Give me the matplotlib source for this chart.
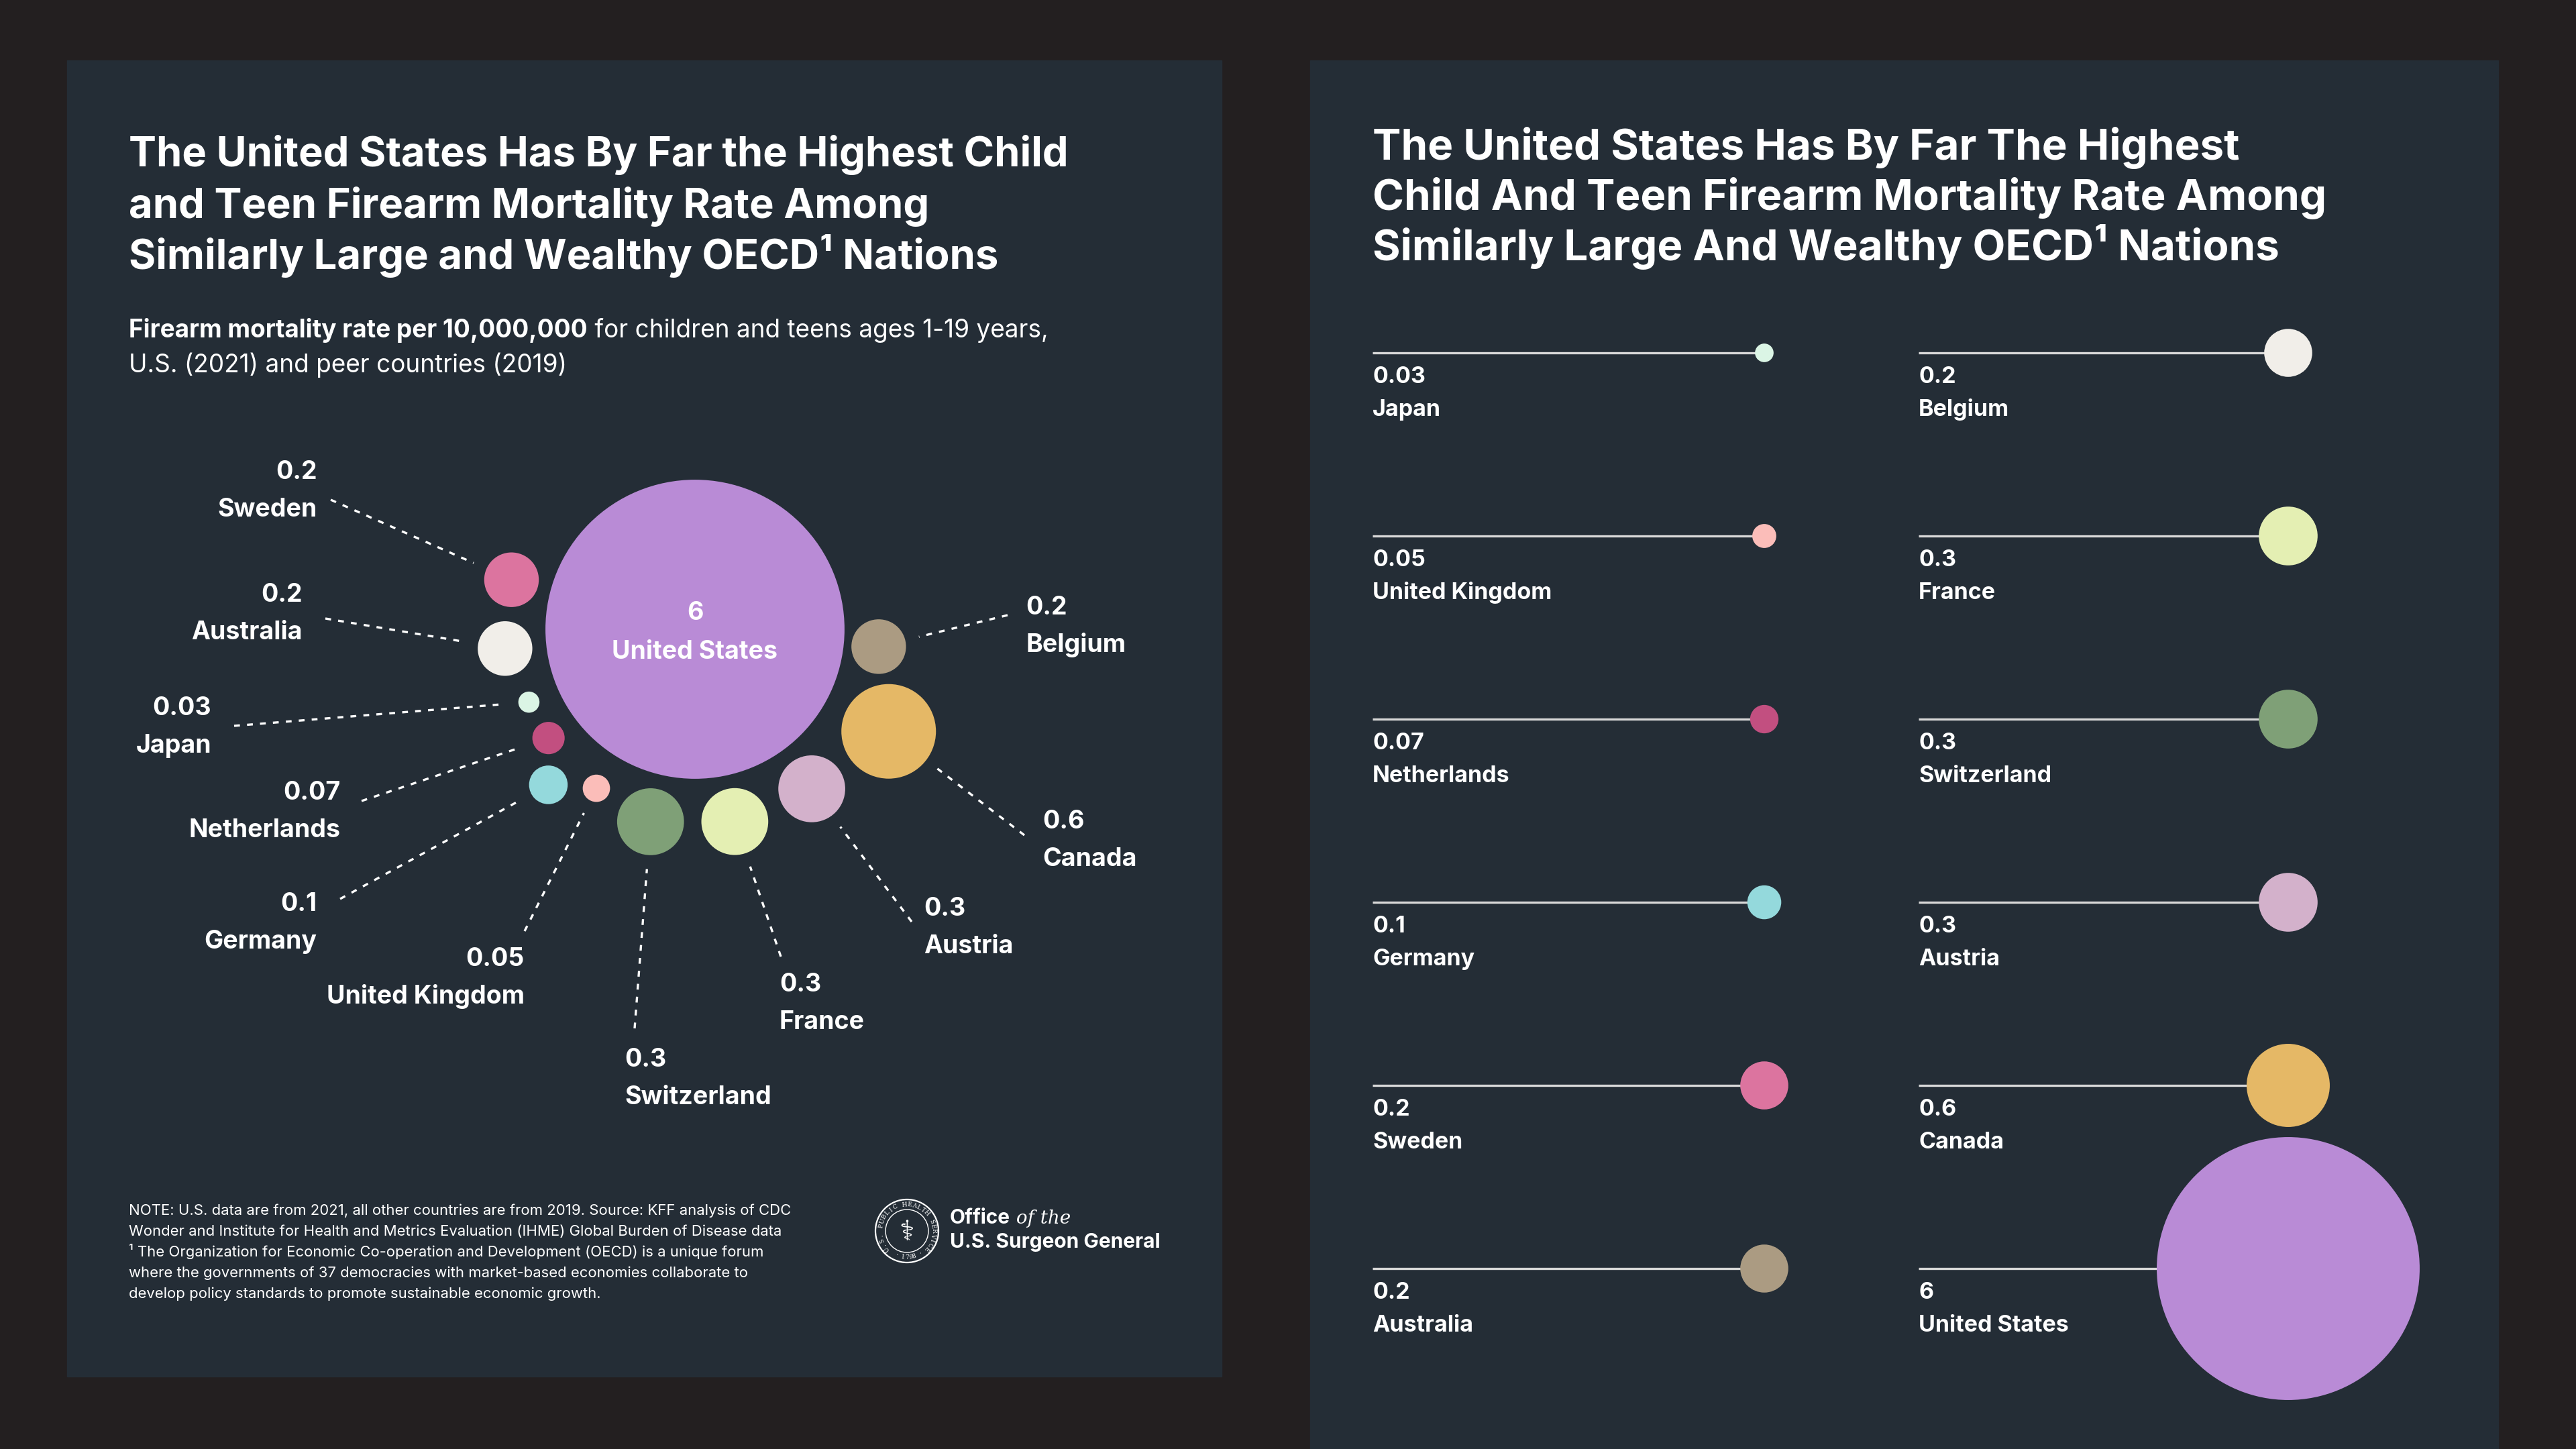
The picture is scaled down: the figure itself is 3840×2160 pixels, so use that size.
import math
import matplotlib.pyplot as plt
from matplotlib.patches import Circle, Rectangle

# Firearm mortality rate per 10,000,000, ages 1-19 (ascending, as in the right-hand chart)
countries = ['Japan', 'United Kingdom', 'Netherlands', 'Germany', 'Sweden', 'Australia',
             'Belgium', 'France', 'Switzerland', 'Austria', 'Canada', 'United States']
rates = [0.03, 0.05, 0.07, 0.1, 0.2, 0.2, 0.2, 0.3, 0.3, 0.3, 0.6, 6]
rate_text = ['0.03', '0.05', '0.07', '0.1', '0.2', '0.2', '0.2', '0.3', '0.3', '0.3', '0.6', '6']

# colours (the two versions swap Australia / Belgium)
bubble_colors = ['#dbf5e5', '#fbbdb9', '#c24f80', '#94d9dc', '#dc749f', '#f1eee9',
                 '#ab9b82', '#e4efb3', '#7fa077', '#d3b1cb', '#e5b866', '#b98bd6']
lolli_colors = ['#dbf5e5', '#fbbdb9', '#c24f80', '#94d9dc', '#dc749f', '#ab9b82',
                '#f1eee9', '#e4efb3', '#7fa077', '#d3b1cb', '#e5b866', '#b98bd6']

title_left = ['The United States Has By Far the Highest Child',
              'and Teen Firearm Mortality Rate Among',
              'Similarly Large and Wealthy OECD\u00b9 Nations']
title_right = ['The United States Has By Far The Highest',
               'Child And Teen Firearm Mortality Rate Among',
               'Similarly Large And Wealthy OECD\u00b9 Nations']
sub_bold = 'Firearm mortality rate per 10,000,000'
sub_rest = ' for children and teens ages 1-19 years,'
sub_line2 = 'U.S. (2021) and peer countries (2019)'
note = ['NOTE: U.S. data are from 2021, all other countries are from 2019. Source: KFF analysis of CDC',
        'Wonder and Institute for Health and Metrics Evaluation (IHME) Global Burden of Disease data',
        '\u00b9 The Organization for Economic Co-operation and Development (OECD) is a unique forum',
        'where the governments of 37 democracies with market-based economies collaborate to',
        'develop policy standards to promote sustainable economic growth.']

# bubble layout around the US circle: angle (deg) and gap to the US edge
bubble_layout = {
    'Sweden': (164.9, 19.7), 'Australia': (185.8, 21), 'Japan': (203.7, 31.7),
    'Netherlands': (216.6, 25), 'Germany': (226.7, 67), 'United Kingdom': (238.2, 35.7),
    'Switzerland': (257, 21.7), 'France': (281.7, 20), 'Austria': (306.2, 22),
    'Canada': (332.2, 33), 'Belgium': (354.6, 11.5),
}
# label x, value baseline, alignment, outer end of leader line
label_layout = {
    'Sweden': (473, 714, 'right', 493, 745),
    'Australia': (451, 897, 'right', 485, 922),
    'Japan': (315, 1066, 'right', 349, 1082),
    'Netherlands': (507, 1192, 'right', 539, 1194),
    'Germany': (472, 1358, 'right', 507, 1340),
    'United Kingdom': (782, 1440, 'right', 782, 1388),
    'Switzerland': (931, 1590, 'left', 946, 1533),
    'France': (1162, 1478, 'left', 1164, 1426),
    'Austria': (1377, 1365, 'left', 1359, 1374),
    'Canada': (1554, 1235, 'left', 1527, 1245),
    'Belgium': (1529, 916, 'left', 1502, 917),
}

BG = '#231f20'
PANEL = '#242d36'
WHITE = '#ffffff'
plt.rcParams['font.family'] = ['Inter', 'Roboto', 'DejaVu Sans']

fig = plt.figure(figsize=(38.4, 21.6), dpi=100, facecolor=BG)
ax = fig.add_axes([0, 0, 1, 1])
ax.set_xlim(0, 3840)
ax.set_ylim(2160, 0)
ax.axis('off')

ax.add_patch(Rectangle((100, 90), 1721, 1962, color=PANEL, zorder=0))
ax.add_patch(Rectangle((1953, 90), 1771, 2100, color=PANEL, zorder=0))

# ---------- left panel ----------
for i, line in enumerate(title_left):
    ax.text(192, 248 + i * 76.5, line, color=WHITE, fontsize=44.3, fontweight='bold', va='baseline')
tb = ax.text(192, 503, sub_bold, color=WHITE, fontsize=26.6, fontweight='bold', va='baseline')
ax.annotate(sub_rest, xy=(1, 0), xycoords=tb, color=WHITE, fontsize=26.6, va='bottom', ha='left')
ax.text(192, 555, sub_line2, color=WHITE, fontsize=26.6, va='baseline')

k_left = 91
us_x, us_y = 1036, 938
us_r = k_left * math.sqrt(rates[-1])
ax.add_patch(Circle((us_x, us_y), us_r, color=bubble_colors[-1], zorder=2, lw=0))
ax.text(us_x, 924, rate_text[-1], color=WHITE, fontsize=27, fontweight='bold', ha='center', va='baseline', zorder=3)
ax.text(us_x, 982, countries[-1], color=WHITE, fontsize=27, fontweight='bold', ha='center', va='baseline', zorder=3)

for name, val, txt, col in zip(countries[:-1], rates[:-1], rate_text[:-1], bubble_colors[:-1]):
    ang, gap = bubble_layout[name]
    r = k_left * math.sqrt(val)
    d = us_r + gap + r
    cx = us_x + d * math.cos(math.radians(ang))
    cy = us_y - d * math.sin(math.radians(ang))
    ax.add_patch(Circle((cx, cy), r, color=col, zorder=2, lw=0))
    lx, ly, ha, ox, oy = label_layout[name]
    ux, uy = ox - cx, oy - cy
    n = math.hypot(ux, uy)
    ix, iy = cx + (r + 21) * ux / n, cy + (r + 21) * uy / n
    ax.plot([ox, ix], [oy, iy], color=WHITE, lw=2.4, linestyle=(0, (2.6, 3.2)), zorder=1)
    ax.text(lx, ly, txt, color=WHITE, fontsize=27, fontweight='bold', ha=ha, va='baseline')
    ax.text(lx, ly + 56, name, color=WHITE, fontsize=27, fontweight='bold', ha=ha, va='baseline')

for i, line in enumerate(note):
    ax.text(192, 1811 + i * 31, line, color=WHITE, fontsize=15.9, va='baseline', ha='left')

# seal
sx, sy = 1352, 1835
ax.add_patch(Circle((sx, sy), 47, fill=False, ec=WHITE, lw=1.6))
ax.add_patch(Circle((sx, sy), 32, fill=False, ec=WHITE, lw=1.0))
ring = 'U.S. PUBLIC HEALTH SERVICE'
for i, ch in enumerate(ring):
    a = 222 - i * (264 / (len(ring) - 1))
    ax.text(sx + 39.5 * math.cos(math.radians(a)), sy - 39.5 * math.sin(math.radians(a)), ch,
            color=WHITE, fontsize=6.5, ha='center', va='center', rotation=a - 90,
            family='DejaVu Serif')
for i, ch in enumerate('\u00b7 1798 \u00b7'):
    a = 246 + i * 8
    ax.text(sx + 39.5 * math.cos(math.radians(a)), sy - 39.5 * math.sin(math.radians(a)), ch,
            color=WHITE, fontsize=6.5, ha='center', va='center', rotation=a + 90,
            family='DejaVu Serif')
ax.text(sx, sy + 2, '\u2695', color=WHITE, fontsize=30, ha='center', va='center', family='DejaVu Sans')

to = ax.text(1416, 1824, 'Office', color=WHITE, fontsize=21.5, fontweight='bold', va='baseline')
ax.annotate(' of the', xy=(1, 0), xycoords=to, color=WHITE, fontsize=20, style='italic',
            family=['DejaVu Serif'], va='bottom', ha='left')
ax.text(1416, 1860, 'U.S. Surgeon General', color=WHITE, fontsize=21.5, fontweight='bold', va='baseline')

# ---------- right panel ----------
for i, line in enumerate(title_right):
    ax.text(2046, 238 + i * 75, line, color=WHITE, fontsize=45.8, fontweight='bold', va='baseline')

k_right = 80
line_start = [2046, 2860]
dot_x = [2630, 3411]
row_y0, row_step = 526, 273
for i, (name, val, txt, col) in enumerate(zip(countries, rates, rate_text, lolli_colors)):
    c, row = divmod(i, 6)
    y = row_y0 + row * row_step
    ax.plot([line_start[c], dot_x[c]], [y, y], color='#d8d8d8', lw=2.4, solid_capstyle='butt', zorder=1)
    ax.add_patch(Circle((dot_x[c], y), k_right * math.sqrt(val), color=col, zorder=2, lw=0))
    ax.text(line_start[c], y + 45, txt, color=WHITE, fontsize=24.5, fontweight='bold', va='baseline')
    ax.text(line_start[c], y + 94, name, color=WHITE, fontsize=24.5, fontweight='bold', va='baseline')

fig.savefig('out.png', dpi=100, facecolor=BG)
